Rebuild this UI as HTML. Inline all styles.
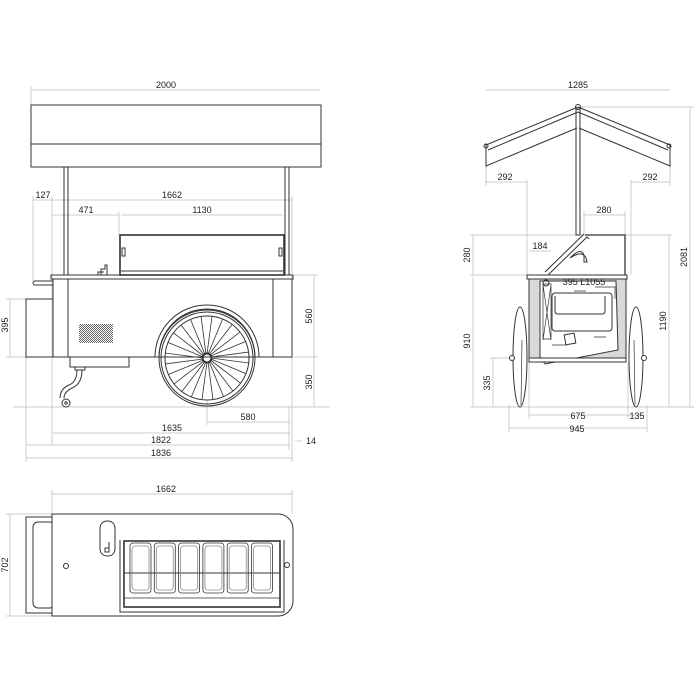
<!DOCTYPE html>
<html><head><meta charset="utf-8"><style>
html,body{margin:0;padding:0;background:#fff}
svg{display:block}
text{font-family:"Liberation Sans",sans-serif;font-size:9px;fill:#222}
</style></head><body>
<svg id="s" width="700" height="700" viewBox="0 0 700 700" xmlns="http://www.w3.org/2000/svg">
<defs>
<pattern id="hatch" width="2" height="2" patternUnits="userSpaceOnUse"><rect width="1" height="1" fill="#666"/><rect x="1" y="1" width="1" height="1" fill="#666"/></pattern>
</defs>
<g stroke="#bbb" stroke-width="0.7" fill="none">
<line x1="31" y1="90" x2="320" y2="90"/>
<line x1="31" y1="86" x2="31" y2="105"/>
<line x1="33" y1="200" x2="292" y2="200"/>
<line x1="52" y1="215" x2="119" y2="215"/><line x1="121" y1="215" x2="283" y2="215"/>
<line x1="33" y1="196" x2="33" y2="281"/><line x1="52" y1="196" x2="52" y2="445"/>
<line x1="119" y1="212" x2="119" y2="235"/><line x1="292" y1="196" x2="292" y2="462"/>
<line x1="10" y1="299" x2="10" y2="357"/><line x1="6" y1="299" x2="26" y2="299"/><line x1="6" y1="357" x2="26" y2="357"/>
<line x1="314" y1="275" x2="314" y2="407"/><line x1="294" y1="275" x2="318" y2="275"/><line x1="294" y1="357" x2="318" y2="357"/>
<line x1="13" y1="407" x2="330" y2="407"/>
<line x1="207" y1="400" x2="207" y2="425"/>
<line x1="207" y1="422" x2="290" y2="422"/>
<line x1="53" y1="433" x2="290" y2="433"/>
<line x1="26" y1="445" x2="290" y2="445"/>
<line x1="26" y1="458" x2="293" y2="458"/>
<line x1="26" y1="357" x2="26" y2="462"/>
<line x1="295" y1="441" x2="302" y2="441"/>
<line x1="289" y1="407" x2="289" y2="450"/>
<line x1="486" y1="90" x2="670" y2="90"/>
<line x1="486" y1="182" x2="527" y2="182"/><line x1="631" y1="182" x2="670" y2="182"/>
<line x1="527" y1="180" x2="527" y2="275"/><line x1="631" y1="180" x2="631" y2="275"/>
<line x1="486" y1="150" x2="486" y2="186"/><line x1="670" y1="150" x2="670" y2="186"/>
<line x1="584" y1="215" x2="625" y2="215"/><line x1="584" y1="211" x2="584" y2="235"/><line x1="625" y1="211" x2="625" y2="235"/>
<line x1="529" y1="251" x2="551" y2="251"/>
<line x1="473" y1="235" x2="473" y2="275"/><line x1="470" y1="235" x2="586" y2="235"/><line x1="470" y1="275" x2="527" y2="275"/>
<line x1="473" y1="277" x2="473" y2="407"/><line x1="493" y1="358" x2="493" y2="407"/><line x1="490" y1="358" x2="515" y2="358"/>
<line x1="669" y1="235" x2="669" y2="407"/><line x1="625" y1="235" x2="672" y2="235"/>
<line x1="690" y1="107" x2="690" y2="407"/><line x1="580" y1="107" x2="694" y2="107"/>
<line x1="470" y1="407" x2="694" y2="407"/>
<line x1="529" y1="415" x2="628" y2="415"/><line x1="628" y1="415" x2="645" y2="415"/>
<line x1="509" y1="428" x2="647" y2="428"/>
<line x1="509" y1="405" x2="509" y2="432"/><line x1="529" y1="362" x2="529" y2="419"/><line x1="628" y1="362" x2="628" y2="419"/><line x1="647" y1="405" x2="647" y2="432"/>
<line x1="52" y1="494" x2="292" y2="494"/><line x1="52" y1="490" x2="52" y2="514"/><line x1="292" y1="490" x2="292" y2="514"/>
<line x1="10" y1="514" x2="10" y2="616"/><line x1="6" y1="514" x2="52" y2="514"/><line x1="6" y1="616" x2="52" y2="616"/>
</g>
<g stroke="#333" stroke-width="1" fill="none">
<rect x="31" y="105" width="290" height="62"/>
<line x1="31" y1="144" x2="321" y2="144"/>
<rect x="64" y="167" width="4" height="108"/>
<rect x="285" y="167" width="4" height="108"/>
<rect x="120" y="235" width="164" height="40" stroke-width="1.6"/>
<line x1="121" y1="271" x2="283" y2="271"/>
<rect x="122" y="248" width="3" height="8"/><rect x="279" y="248" width="3" height="8"/>
<path d="M101 275 v-6 h4 v-4 h2 v10 M98 275 v-3 h6"/>
<rect x="51" y="275" width="242" height="4"/>
<rect x="53" y="279" width="239" height="78"/>
<line x1="68" y1="279" x2="68" y2="357"/><line x1="273" y1="279" x2="273" y2="357"/>
<rect x="26" y="299" width="27" height="58"/>
<path d="M53 281 h-18 a2 2 0 0 0 0 4 h18"/>
<rect x="79" y="324" width="34" height="19" fill="url(#hatch)" stroke="none"/>
<rect x="70" y="357" width="59" height="10"/>
<path d="M75 367 v3 h10 v-3 M82 370 q0 14 -10 18 q-8 4 -8 10 M77 370 q0 12 -8 15 q-9 4 -9 13"/>
<circle cx="66" cy="403" r="4"/><circle cx="66" cy="403" r="1.2"/>
<path d="M155 357 A52 52 0 0 1 259 357 h-4 A48 48 0 0 0 159 357 Z"/>
<circle cx="207" cy="358" r="48"/>
<circle cx="207" cy="358" r="46"/>
<circle cx="207" cy="358" r="42"/>
<g id="spokes" stroke-width="0.8"></g>
<circle cx="207" cy="358" r="4.5" stroke-width="2"/>
<path d="M578 107 L486 145 L486 166 L577 128 M578 112 L488 150" />
<path d="M578 107 L670 145 L670 166 L579 128 M578 112 L668 150"/>
<circle cx="486" cy="146" r="2"/><circle cx="669" cy="146" r="2"/><circle cx="578" cy="107" r="2.5"/>
<rect x="576" y="109" width="4" height="126"/>
<path d="M585 235 H625 V275" stroke-width="1.3"/>
<path d="M545 272 L584 234 M548 275 L587 237 L589 239"/>
<path d="M570 258 q12 -12 14 -2 v6 h3 q-2 -14 -17 -4"/>
<rect x="529" y="279" width="97" height="83" fill="#d9d9d9"/>
<rect x="527" y="275" width="100" height="4" fill="#fff"/>
<path d="M540 281 H616 L618 350 L545 364 L540 357 Z" fill="#fff"/>
<rect x="552" y="293" width="60" height="38" rx="3" fill="#fff"/>
<path d="M555 296 v15 q0 3 3 3 h44 q3 0 3 -3 v-15"/>
<path d="M543 285 L551 340 M551 285 L543 340 M543 284 h8 v55 h-8 z" stroke-width="0.7"/>
<circle cx="546" cy="283" r="3"/>
<rect x="565" y="334" width="10" height="10" transform="rotate(-10 570 339)"/>
<path d="M574 291 h12 M595 287 h20 v12 M606 337 h-12 M552 345 h15" stroke-width="0.7"/>
<rect x="529" y="358" width="97" height="4" fill="#fff"/>
<ellipse cx="520" cy="357" rx="7" ry="50" fill="#fff"/>
<ellipse cx="636" cy="357" rx="7" ry="50" fill="#fff"/>
<path d="M522 340 L521 405 M634 340 L635 405" stroke-width="0.7"/>
<circle cx="512" cy="358" r="2.5" fill="#fff"/><circle cx="644" cy="358" r="2.5" fill="#fff"/>
<rect x="26" y="517" width="28" height="96"/>
<rect x="33" y="522" width="22" height="86" rx="5"/>
<path d="M52 514 H278 A15 15 0 0 1 293 529 V601 A15 15 0 0 1 278 616 H52 Z" fill="#fff"/>
<circle cx="66" cy="566" r="2.5"/>
<circle cx="287" cy="565" r="2.5"/>
<rect x="100" y="521" width="15" height="35" rx="7"/>
<path d="M106 548 h3 v-6 M105 548 h4 v4 h-4z"/>
<path d="M120 540 V612 H284 V540" />
<rect x="124" y="541" width="156" height="66" stroke-width="1.6"/>
<line x1="124" y1="573" x2="280" y2="573"/>
<line x1="124" y1="598" x2="280" y2="598" stroke-width="0.7"/>
<g id="pans" stroke-width="0.8"></g>
</g>
<g>
<text x="166" y="88" text-anchor="middle">2000</text>
<text x="43" y="198" text-anchor="middle">127</text>
<text x="172" y="198" text-anchor="middle">1662</text>
<text x="86" y="213" text-anchor="middle">471</text>
<text x="202" y="213" text-anchor="middle">1130</text>
<text x="11" y="328" text-anchor="middle" transform="rotate(-90 8 328)">395</text>
<text x="312" y="316" text-anchor="middle" transform="rotate(-90 312 316)">560</text>
<text x="312" y="382" text-anchor="middle" transform="rotate(-90 312 382)">350</text>
<text x="248" y="420" text-anchor="middle">580</text>
<text x="172" y="431" text-anchor="middle">1635</text>
<text x="161" y="443" text-anchor="middle">1822</text>
<text x="161" y="456" text-anchor="middle">1836</text>
<text x="311" y="444" text-anchor="middle">14</text>
<text x="578" y="88" text-anchor="middle">1285</text>
<text x="505" y="180" text-anchor="middle">292</text>
<text x="650" y="180" text-anchor="middle">292</text>
<text x="604" y="213" text-anchor="middle">280</text>
<text x="540" y="249" text-anchor="middle">184</text>
<text x="584" y="285" text-anchor="middle" font-size="10">395  L1055</text>
<text x="470" y="255" text-anchor="middle" transform="rotate(-90 470 255)">280</text>
<text x="470" y="341" text-anchor="middle" transform="rotate(-90 470 341)">910</text>
<text x="490" y="383" text-anchor="middle" transform="rotate(-90 490 383)">335</text>
<text x="666" y="321" text-anchor="middle" transform="rotate(-90 666 321)">1190</text>
<text x="687" y="257" text-anchor="middle" transform="rotate(-90 687 257)">2081</text>
<text x="578" y="419" text-anchor="middle">675</text>
<text x="637" y="419" text-anchor="middle">135</text>
<text x="577" y="432" text-anchor="middle">945</text>
<text x="166" y="492" text-anchor="middle">1662</text>
<text x="8" y="565" text-anchor="middle" transform="rotate(-90 8 565)">702</text>
</g>
</svg>
<script>
var g=document.getElementById('spokes'),s='';
for(var i=0;i<24;i++){var a=i*Math.PI/12;s+='<line x1="'+(207+4*Math.cos(a))+'" y1="'+(358+4*Math.sin(a))+'" x2="'+(207+42*Math.cos(a+0.12))+'" y2="'+(358+42*Math.sin(a+0.12))+'"/>';}
g.innerHTML=s;
var p=document.getElementById('pans'),t='';
for(var j=0;j<6;j++){var x=130+j*24.3;t+='<rect x="'+x+'" y="543" width="21" height="50" rx="3"/><rect x="'+(x+2)+'" y="546" width="17" height="44" rx="3" stroke="#888"/>';}
p.innerHTML=t;
</script>
</body></html>
